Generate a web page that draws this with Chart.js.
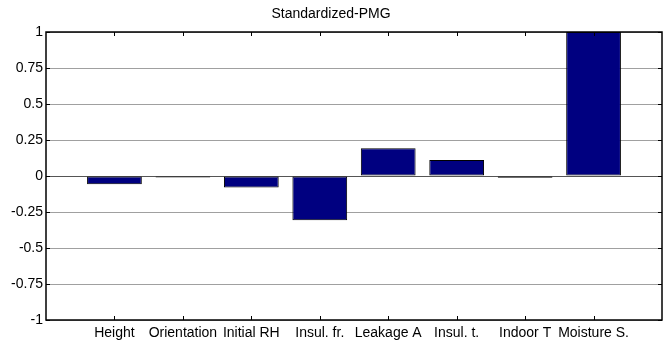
<!DOCTYPE html>
<html>
<head>
<meta charset="utf-8">
<script src="https://cdn.jsdelivr.net/npm/chart.js@4/dist/chart.umd.min.js"></script>
<style>
  html, body { margin: 0; padding: 0; background: #fff; }
  #wrap { width: 664px; height: 349px; }
</style>
</head>
<body>
<div id="wrap"><canvas id="pmgChart"></canvas></div>
<script>
const categories = ["Height", "Orientation", "Initial RH", "Insul. fr.", "Leakage A", "Insul. t.", "Indoor T", "Moisture S."];
const pmgValues  = [-0.058, -0.01, -0.079, -0.307, 0.193, 0.111, -0.012, 1.0];
const yTicks     = [1, 0.75, 0.5, 0.25, 0, -0.25, -0.5, -0.75, -1];

const points = pmgValues.map((v, i) => ({ x: i + 1, y: v }));
const FONT = "Liberation Sans, Arial, sans-serif";

// box outline plus inward tick marks on all four sides
const frame = {
  id: "frame",
  afterDraw(chart) {
    const { ctx, chartArea: a, scales } = chart;
    const len = 4;
    ctx.save();
    ctx.strokeStyle = "#000";
    ctx.lineWidth = 1;
    ctx.beginPath();
    for (let i = 1; i <= categories.length; i++) {
      const x = Math.round(scales.x.getPixelForValue(i)) + 0.5;
      ctx.moveTo(x, a.top); ctx.lineTo(x, a.top + len);
      ctx.moveTo(x, a.bottom); ctx.lineTo(x, a.bottom - len);
    }
    yTicks.forEach(v => {
      const y = Math.round(scales.y.getPixelForValue(v)) + 0.5;
      ctx.moveTo(a.left, y); ctx.lineTo(a.left + len, y);
      ctx.moveTo(a.right, y); ctx.lineTo(a.right - len, y);
    });
    ctx.stroke();
    ctx.lineWidth = 1.5;
    ctx.strokeRect(a.left, a.top, a.right - a.left, a.bottom - a.top);
    ctx.restore();
  }
};

new Chart(document.getElementById("pmgChart"), {
  type: "bar",
  data: {
    datasets: [{
      label: "Standardized-PMG",
      data: points,
      backgroundColor: "#000080",
      borderColor: "#000",
      borderWidth: 1,
      borderSkipped: false,
      barPercentage: 0.8,
      categoryPercentage: 1.0
    }]
  },
  options: {
    responsive: true,
    maintainAspectRatio: false,
    animation: false,
    layout: { padding: { left: 0, right: 2, top: 0, bottom: 0 } },
    plugins: {
      legend: { display: false },
      tooltip: { enabled: false },
      title: {
        display: true,
        text: "Standardized-PMG",
        color: "#000",
        font: { family: FONT, size: 14, weight: "normal" },
        padding: { top: 6, bottom: 9.2 }
      }
    },
    scales: {
      x: {
        type: "linear",
        min: 0,
        max: 9,
        offset: false,
        afterFit(scale) { scale.height = 29; },
        afterBuildTicks(scale) {
          scale.ticks = categories.map((c, i) => ({ value: i + 1 }));
        },
        grid: { display: false, drawTicks: false, offset: false },
        border: { display: false },
        ticks: {
          autoSkip: false,
          maxRotation: 0,
          padding: 5,
          color: "#000",
          font: { family: FONT, size: 14 },
          callback: v => categories[v - 1] || ""
        }
      },
      y: {
        min: -1,
        max: 1,
        afterFit(scale) { scale.width = 46; },
        afterBuildTicks(scale) {
          scale.ticks = yTicks.map(v => ({ value: v }));
        },
        grid: {
          drawTicks: false,
          color: ctx => ctx.tick && ctx.tick.value === 0 ? "#555" : "#a0a0a0",
          lineWidth: 1
        },
        border: { display: false },
        ticks: {
          padding: 3,
          color: "#000",
          font: { family: FONT, size: 14 },
          callback: v => String(v)
        }
      }
    }
  },
  plugins: [frame]
});
</script>
</body>
</html>
